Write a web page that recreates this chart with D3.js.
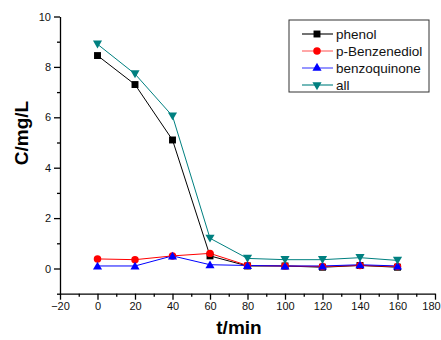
<!DOCTYPE html>
<html>
<head>
<meta charset="utf-8">
<script src="https://cdn.jsdelivr.net/npm/d3@7"></script>
<style>
  body { margin: 0; background: #fff; }
  svg { display: block; font-family: "Liberation Sans", Arial, sans-serif; }
</style>
</head>
<body>
<svg id="chart" width="441" height="340"></svg>
<script>
const times = [0, 20, 40, 60, 80, 100, 120, 140, 160];
const phenol = [8.45, 7.3, 5.1, 0.5, 0.1, 0.1, 0.05, 0.12, 0.05];
const benzenediol = [0.38, 0.35, 0.5, 0.6, 0.12, 0.1, 0.08, 0.12, 0.08];
const benzoquinone = [0.1, 0.1, 0.5, 0.15, 0.12, 0.1, 0.1, 0.15, 0.1];
const all = [8.9, 7.72, 6.05, 1.2, 0.4, 0.35, 0.35, 0.43, 0.32];
const xTicks = [-20, 0, 20, 40, 60, 80, 100, 120, 140, 160, 180];
const yTicks = [0, 2, 4, 6, 8, 10];

const series = [
  { name: 'phenol', values: phenol, color: '#000000', legendLine: '#000000', symbol: d3.symbolSquare, size: 48, rot: 0 },
  { name: 'p-Benzenediol', values: benzenediol, color: '#ff0000', legendLine: '#ff6060', symbol: d3.symbolCircle, size: 44, rot: 0 },
  { name: 'benzoquinone', values: benzoquinone, color: '#0000ff', legendLine: '#4040ff', symbol: d3.symbolTriangle, size: 36, rot: 0 },
  { name: 'all', values: all, color: '#008080', legendLine: '#008080', symbol: d3.symbolTriangle, size: 36, rot: 180 }
];

const svg = d3.select('#chart');

const x = d3.scaleLinear().domain([-20, 180]).range([60, 435]);
const y = d3.scaleLinear().domain([-1, 10]).range([293.7, 16.5]);

// axes: left and bottom only
const gx = svg.append('g')
  .attr('transform', `translate(0,${y(-1)})`)
  .call(d3.axisBottom(x).tickValues(xTicks).tickSize(6).tickSizeOuter(0).tickPadding(3));
// last label sits at the window edge, nudge it in a little
gx.selectAll('.tick text').filter(d => d === 180).attr('dx', -4);
svg.append('g')
  .attr('transform', `translate(0,${y(-1)})`)
  .call(d3.axisBottom(x).tickValues(d3.range(-10, 180, 20)).tickSize(3).tickFormat('').tickSizeOuter(0))
  .select('.domain').remove();

svg.append('g')
  .attr('transform', `translate(${x(-20)},0)`)
  .call(d3.axisLeft(y).tickValues(yTicks).tickSize(6).tickSizeOuter(0).tickPadding(3));
svg.append('g')
  .attr('transform', `translate(${x(-20)},0)`)
  .call(d3.axisLeft(y).tickValues([-1, 1, 3, 5, 7, 9]).tickSize(3).tickFormat('').tickSizeOuter(0))
  .select('.domain').remove();

svg.selectAll('.tick text').attr('font-size', 11).attr('fill', '#111')
  .attr('font-family', '"Liberation Sans", Arial, sans-serif');
svg.selectAll('.domain, .tick line').attr('stroke', '#000').attr('stroke-width', 1.3);

// axis titles
svg.append('text')
  .attr('transform', 'translate(28,133) rotate(-90)')
  .attr('text-anchor', 'middle')
  .attr('font-size', 19).attr('font-weight', 'bold')
  .text('C/mg/L');
svg.append('text')
  .attr('x', 239).attr('y', 334)
  .attr('text-anchor', 'middle')
  .attr('font-size', 19).attr('font-weight', 'bold')
  .text('t/min');

const line = d3.line().x((d, i) => x(times[i])).y(d => y(d));

series.forEach(s => {
  svg.append('path')
    .datum(s.values)
    .attr('fill', 'none')
    .attr('stroke', s.color)
    .attr('stroke-width', 1)
    .attr('d', line);
});

series.forEach(s => {
  svg.append('g').selectAll('path')
    .data(s.values)
    .join('path')
    .attr('d', d3.symbol().type(s.symbol).size(s.size))
    .attr('transform', (d, i) => `translate(${x(times[i])},${y(d) + (s.symbol === d3.symbolTriangle ? (s.rot ? -1 : 1) : 0)}) rotate(${s.rot})`)
    .attr('fill', s.color);
});

// legend
const lg = svg.append('g');
lg.append('rect')
  .attr('x', 289).attr('y', 20).attr('width', 140).attr('height', 72)
  .attr('fill', '#fff').attr('stroke', '#333').attr('stroke-width', 1);
series.forEach((s, i) => {
  const ry = 34 + i * 17;
  lg.append('line').attr('x1', 302).attr('x2', 333).attr('y1', ry).attr('y2', ry)
    .attr('stroke', s.legendLine).attr('stroke-width', 1.1);
  lg.append('path')
    .attr('d', d3.symbol().type(s.symbol).size(s.size))
    .attr('transform', `translate(317,${ry}) rotate(${s.rot})`)
    .attr('fill', s.color);
  lg.append('text').attr('x', 336).attr('y', ry + 5)
    .attr('font-size', 13.5).attr('fill', '#111')
    .text(s.name);
});
</script>
</body>
</html>
